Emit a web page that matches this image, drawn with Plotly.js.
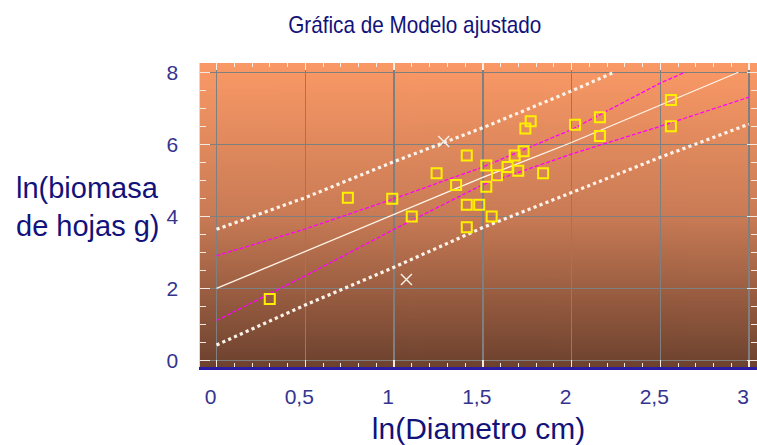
<!DOCTYPE html>
<html>
<head>
<meta charset="utf-8">
<script src="https://cdn.plot.ly/plotly-3.0.1.min.js"></script>
<style>
  html, body { margin: 0; padding: 0; background: #ffffff; }
  #chart { width: 757px; height: 445px; }
</style>
</head>
<body>
<div id="chart"></div>
<script>
// Observed data (ln diameter vs ln leaf biomass)
const obsX = [0.30, 0.74, 0.99, 1.10, 1.24, 1.35, 1.41, 1.41, 1.41, 1.48, 1.52, 1.52, 1.55, 1.58, 1.64, 1.68, 1.70, 1.73, 1.74, 1.77, 1.84, 2.02, 2.16, 2.16, 2.56, 2.56];
const obsY = [1.71, 4.52, 4.49, 4.00, 5.20, 4.87, 5.69, 4.32, 3.70, 4.32, 4.82, 5.41, 4.00, 5.14, 5.37, 5.69, 5.27, 5.81, 6.44, 6.64, 5.20, 6.54, 6.75, 6.23, 7.23, 6.50];

// Excluded / outlying points
const outX = [1.28, 1.07];
const outY = [6.08, 2.25];

// Fitted model
const fitX = [0, 0.5, 1.0, 1.5, 2.0, 2.5, 2.94];
const fitY = [2.00, 3.02, 4.04, 5.08, 6.05, 7.08, 8.00];

// Prediction limits
const predUpX = [0, 0.5, 1.0, 1.5, 2.0, 2.24];
const predUpY = [3.64, 4.52, 5.52, 6.46, 7.48, 8.00];
const predLoX = [0, 0.5, 1.0, 1.5, 2.0, 2.5, 3.0];
const predLoY = [0.43, 1.54, 2.59, 3.69, 4.66, 5.64, 6.56];

// Confidence limits
const confUpX = [0, 0.5, 1.0, 1.5, 2.0, 2.5, 2.64];
const confUpY = [2.91, 3.65, 4.49, 5.37, 6.41, 7.70, 8.00];
const confLoX = [0, 0.5, 1.0, 1.5, 2.0, 2.5, 3.0];
const confLoY = [1.11, 2.35, 3.64, 4.88, 5.73, 6.50, 7.31];

const titleText = 'Gráfica de Modelo ajustado';
const xTitle = 'ln(Diametro cm)';
const yTitle = 'ln(biomasa<br>de hojas g)';

function gradientURL() {
  const c = document.createElement('canvas');
  c.width = 4; c.height = 304;
  const g = c.getContext('2d');
  const gr = g.createLinearGradient(0, 0, 0, 304);
  gr.addColorStop(0, '#FA9966');
  gr.addColorStop(0.5, '#C97B55');
  gr.addColorStop(1, '#6C412E');
  g.fillStyle = gr;
  g.fillRect(0, 0, 4, 304);
  return c.toDataURL();
}

const FONT = 'Liberation Sans, Arial, sans-serif';
const tickColor = '#34348f';
const titleColor = '#12127a';

const traces = [
  { x: predUpX, y: predUpY, mode: 'lines', line: { color: '#FBF3EA', width: 3.2, dash: 'dot' }, hoverinfo: 'skip', showlegend: false },
  { x: predLoX, y: predLoY, mode: 'lines', line: { color: '#FBF3EA', width: 3.2, dash: 'dot' }, hoverinfo: 'skip', showlegend: false },
  { x: confUpX, y: confUpY, mode: 'lines', line: { color: '#FF00FF', width: 1.3, dash: '4px,2px' }, hoverinfo: 'skip', showlegend: false },
  { x: confLoX, y: confLoY, mode: 'lines', line: { color: '#FF00FF', width: 1.3, dash: '4px,2px' }, hoverinfo: 'skip', showlegend: false },
  { x: fitX, y: fitY, mode: 'lines', line: { color: '#FFF4E6', width: 1.3 }, hoverinfo: 'skip', showlegend: false },
  { x: obsX, y: obsY, mode: 'markers', marker: { symbol: 'square-open', size: 10, color: '#FFF000', line: { width: 2, color: '#FFF000' } }, showlegend: false },
  { x: outX, y: outY, mode: 'markers', marker: { symbol: 'x-thin-open', size: 11, color: '#F6EEE4', line: { width: 1.5, color: '#F6EEE4' } }, showlegend: false },
  { x: [], y: [], xaxis: 'x2', yaxis: 'y', mode: 'markers', showlegend: false, hoverinfo: 'skip' }
];

const layout = {
  width: 757, height: 445,
  margin: { l: 200, r: 0, t: 63, b: 78 },
  paper_bgcolor: '#ffffff',
  plot_bgcolor: 'rgba(0,0,0,0)',
  separators: ',.',
  showlegend: false,
  font: { family: FONT, color: tickColor },
  title: {
    text: titleText,
    font: { family: FONT, size: 23, color: titleColor },
    xref: 'container', x: 0.548, xanchor: 'center',
    yref: 'container', y: 0.944, yanchor: 'middle'
  },
  images: [{
    source: gradientURL(), xref: 'paper', yref: 'paper',
    x: 0, y: 1, sizex: 1, sizey: 1, sizing: 'stretch',
    xanchor: 'left', yanchor: 'top', layer: 'below'
  }],
  xaxis: {
    range: [-0.093, 3.045], dtick: 0.5, tick0: 0,
    showgrid: true, gridcolor: '#7f7f7f', gridwidth: 1.5,
    zeroline: false,
    showline: true, linecolor: '#2B1CA2', linewidth: 3,
    ticks: 'inside', ticklen: 7, tickcolor: '#F2EAE2', tickwidth: 1.5,
    minor: { dtick: 0.1, ticks: 'inside', ticklen: 4, tickcolor: '#F2EAE2', tickwidth: 1, showgrid: false },
    tickfont: { family: FONT, size: 21, color: tickColor },
    ticklabelstandoff: 9,
    ticklabelshift: -6,
    title: { text: xTitle, font: { family: FONT, size: 30, color: titleColor }, standoff: 11 }
  },
  xaxis2: {
    overlaying: 'x', side: 'top', matches: 'x', anchor: 'y',
    range: [-0.093, 3.045], dtick: 0.5, tick0: 0,
    showgrid: false, zeroline: false, showticklabels: false,
    showline: true, linecolor: '#FFFFFF', linewidth: 1.5,
    ticks: 'inside', ticklen: 7, tickcolor: '#F6EEE6', tickwidth: 1.5,
    minor: { dtick: 0.1, ticks: 'inside', ticklen: 4, tickcolor: '#F6EEE6', tickwidth: 1, showgrid: false }
  },
  yaxis: {
    range: [-0.18, 8.257], dtick: 2, tick0: 0,
    showgrid: true, gridcolor: '#7f7f7f', gridwidth: 1.5,
    zeroline: false,
    showline: true, linecolor: '#DCD4F0', linewidth: 1.5, mirror: 'ticks',
    ticks: 'inside', ticklen: 10, tickcolor: '#F2EAE2', tickwidth: 1.5,
    minor: { dtick: 0.5, ticks: 'inside', ticklen: 6, tickcolor: '#F2EAE2', tickwidth: 1, showgrid: false },
    tickfont: { family: FONT, size: 21, color: tickColor },
    ticklabelstandoff: 16
  },
  annotations: [{
    text: yTitle, xref: 'paper', yref: 'paper',
    x: -0.334, xanchor: 'left', y: 0.526, yanchor: 'middle',
    align: 'left', showarrow: false,
    font: { family: FONT, size: 29, color: titleColor }
  }]
};

Plotly.newPlot('chart', traces, layout, { displayModeBar: false, staticPlot: true }).then(function () {
  // the reference title is set slightly condensed: narrow it about its centre
  const t = document.querySelector('.gtitle');
  if (t) {
    const bb = t.getBBox();
    const cx = bb.x + bb.width / 2;
    t.setAttribute('transform', 'translate(' + cx + ',0) scale(0.9,1) translate(' + (-cx) + ',0)');
  }
});
</script>
</body>
</html>
